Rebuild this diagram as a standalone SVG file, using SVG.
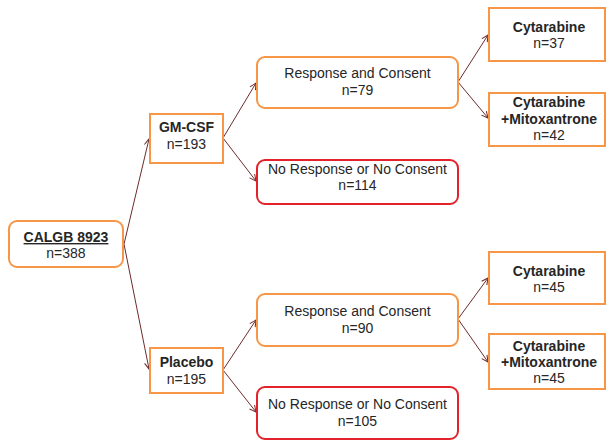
<svg xmlns="http://www.w3.org/2000/svg" width="606" height="441" viewBox="0 0 606 441">
<defs>
<marker id="ah" viewBox="0 0 10 10" refX="9" refY="5" markerWidth="8" markerHeight="8" orient="auto" markerUnits="userSpaceOnUse">
<path d="M1,1 L9,5 L1,9" fill="none" stroke="#6e2c2c" stroke-width="1.3"/>
</marker>
<style>
.o{fill:#fff;stroke:#f79646;stroke-width:2}
.r{fill:#fff;stroke:#e3222b;stroke-width:2}
.t{font-family:"Liberation Sans",Arial,sans-serif;font-size:14px;fill:#262626;text-anchor:middle}
.b{font-weight:bold}
.c line{stroke:#6e2c2c;stroke-width:1;marker-end:url(#ah)}
</style>
</defs>
<rect width="606" height="441" fill="#fff"/>
<g class="c" id="connectors">
<line x1="124" y1="244" x2="149" y2="139"/>
<line x1="124" y1="244" x2="149" y2="369"/>
<line x1="223" y1="138" x2="256" y2="83"/>
<line x1="223" y1="138" x2="256" y2="181"/>
<line x1="458" y1="82" x2="488" y2="35"/>
<line x1="458" y1="82" x2="488" y2="118"/>
<line x1="223" y1="370" x2="256" y2="320"/>
<line x1="223" y1="370" x2="256" y2="412"/>
<line x1="458" y1="319" x2="488" y2="278"/>
<line x1="458" y1="319" x2="488" y2="362"/>
</g>
<g id="calgb">
<rect class="o" x="9" y="221" width="114" height="46" rx="8"/>
<text class="t b" x="66" y="242" text-decoration="underline">CALGB 8923</text>
<text class="t" x="66" y="258">n=388</text>
</g>
<g id="gmcsf">
<rect class="o" x="150" y="114" width="73" height="49"/>
<text class="t b" x="186.5" y="132">GM-CSF</text>
<text class="t" x="186.5" y="149">n=193</text>
</g>
<g id="placebo">
<rect class="o" x="150" y="348" width="73" height="45"/>
<text class="t b" x="186.5" y="367">Placebo</text>
<text class="t" x="186.5" y="384">n=195</text>
</g>
<g id="resp1">
<rect class="o" x="257" y="57" width="201" height="51" rx="8"/>
<text class="t" x="357.5" y="78">Response and Consent</text>
<text class="t" x="357.5" y="95">n=79</text>
</g>
<g id="noresp1">
<rect class="r" x="257" y="160" width="201" height="44" rx="8"/>
<text class="t" x="357.5" y="174">No Response or No Consent</text>
<text class="t" x="357.5" y="190">n=114</text>
</g>
<g id="resp2">
<rect class="o" x="257" y="294" width="201" height="52" rx="8"/>
<text class="t" x="357.5" y="316">Response and Consent</text>
<text class="t" x="357.5" y="333">n=90</text>
</g>
<g id="noresp2">
<rect class="r" x="257" y="387" width="201" height="52" rx="8"/>
<text class="t" x="357.5" y="409">No Response or No Consent</text>
<text class="t" x="357.5" y="426">n=105</text>
</g>
<g id="cyt1">
<rect class="o" x="489" y="8" width="116" height="53"/>
<text class="t b" x="549" y="32">Cytarabine</text>
<text class="t" x="549" y="48">n=37</text>
</g>
<g id="cytmito1">
<rect class="o" x="489" y="93" width="116" height="53"/>
<text class="t b" x="549" y="107">Cytarabine</text>
<text class="t b" x="549" y="124">+Mitoxantrone</text>
<text class="t" x="549" y="140">n=42</text>
</g>
<g id="cyt2">
<rect class="o" x="489" y="252" width="116" height="52"/>
<text class="t b" x="549" y="276">Cytarabine</text>
<text class="t" x="549" y="292">n=45</text>
</g>
<g id="cytmito2">
<rect class="o" x="489" y="334" width="116" height="55"/>
<text class="t b" x="549" y="351">Cytarabine</text>
<text class="t b" x="549" y="367">+Mitoxantrone</text>
<text class="t" x="549" y="383">n=45</text>
</g>
</svg>
